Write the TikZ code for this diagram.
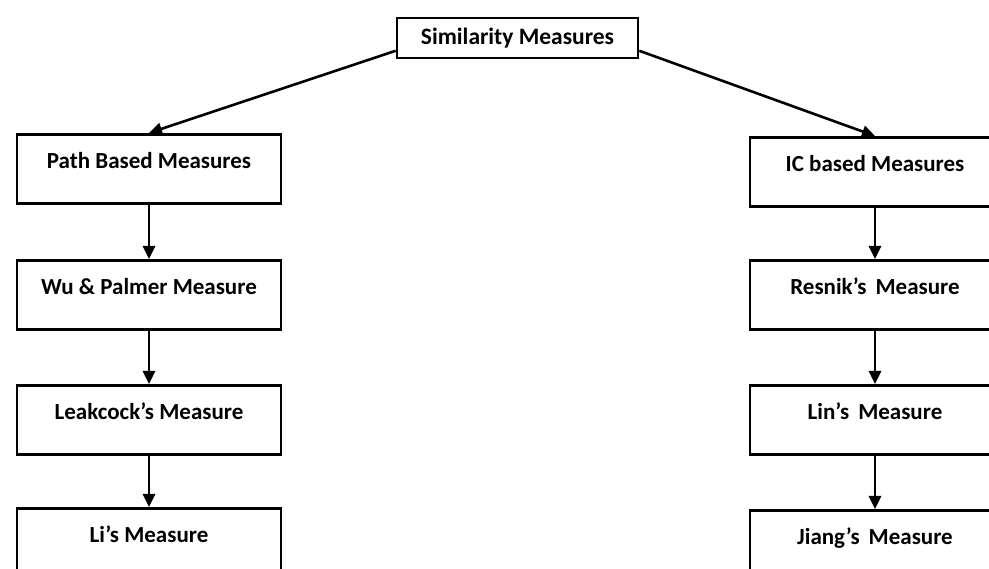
\documentclass[tikz,border=0pt]{standalone}
\usepackage{fontspec}
\setmainfont{Carlito}
\usetikzlibrary{arrows.meta,calc}
\begin{document}
\begin{tikzpicture}[x=1pt,y=-1pt,
  mbox/.style={draw, line width=2.6pt, inner sep=0pt, minimum width=264pt,
    text height=34pt, text depth=35pt, font=\fontsize{23}{27}\selectfont\bfseries},
  rbox/.style={mbox, minimum width=250pt},
  topbox/.style={draw, line width=2.6pt, inner sep=0pt, minimum width=241pt,
    minimum height=40pt, font=\fontsize{23.5}{27}\selectfont\bfseries},
  conn/.style={line width=2.6pt, -{Triangle[length=13pt,width=12pt]}}]
\useasboundingbox (0,0) rectangle (989,569);
\clip (0,0) rectangle (989,569);
\node[topbox] (sim) at (517.5,38) {Similarity Measures};
% left column
\node[mbox] (path) at (149,133) [anchor=north] {Path Based Measures};
\node[mbox] (wu) at (149,259) [anchor=north] {Wu \& Palmer Measure};
\node[mbox] (leak) at (149,384) [anchor=north] {Leakcock’s Measure};
\node[mbox] (li) at (149,507) [anchor=north] {Li’s Measure};
% right column
\node[rbox] (ic) at (875,136) [anchor=north] {IC based Measures};
\node[rbox] (res) at (875,259) [anchor=north] {Resnik’s\, Measure};
\node[rbox] (lin) at (875,384) [anchor=north] {Lin’s\, Measure};
\node[rbox] (jiang) at (875,509) [anchor=north] {Jiang’s\, Measure};
% connectors
\draw[conn] ($(sim.south west)!0.2!(sim.north west)$) -- (path.north);
\draw[conn] ($(sim.south east)!0.2!(sim.north east)$) -- (ic.north);
\draw[conn] (path.south) -- (wu.north);
\draw[conn] (wu.south) -- (leak.north);
\draw[conn] (leak.south) -- (li.north);
\draw[conn] (ic.south) -- (res.north);
\draw[conn] (res.south) -- (lin.north);
\draw[conn] (lin.south) -- (jiang.north);
\end{tikzpicture}
\end{document}
